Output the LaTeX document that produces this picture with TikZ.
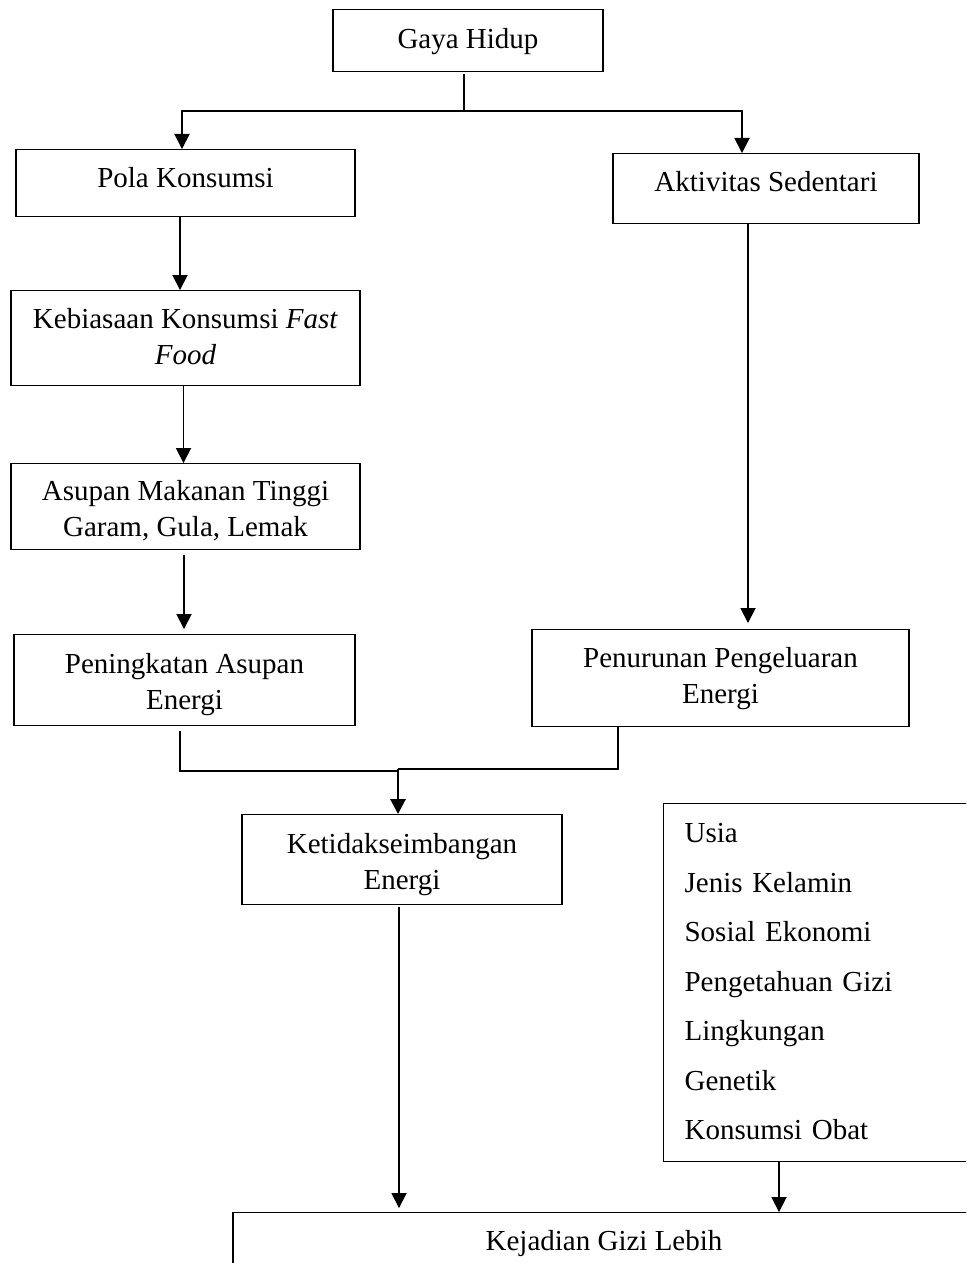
\documentclass[tikz,border=0pt]{standalone}
\usepackage{fontspec}
\setmainfont{Liberation Serif}
\usepackage{tikz}
\usetikzlibrary{arrows.meta, positioning, calc}

\begin{document}
\begin{tikzpicture}[
    x=0.5pt, y=-0.5pt,
    kotak/.style={draw, line width=0.6pt, anchor=north, align=center, inner xsep=4pt, inner ysep=0pt,
      text height=19pt, font=\fontsize{14.5}{18}\selectfont},
    daftar/.style={draw, line width=0.6pt, anchor=north west, align=left, inner xsep=10.5pt, inner ysep=0pt,
      text width=147.5pt, text height=19.5pt, text depth=159.5pt, font=\fontsize{14.5}{24.75}\selectfont},
    garis/.style={line width=0.6pt},
    panah/.style={-{Triangle[length=7.5pt, width=7.6pt]}, line width=0.6pt},
    panahtebal/.style={-{Triangle[length=7.5pt, width=7.6pt]}, line width=1.2pt}
  ]
  \useasboundingbox (0,0) rectangle (966,1263);
  \clip (0,0) rectangle (966,1263);

  % kotak-kotak
  \node[kotak, minimum width=135pt, text height=19.5pt, text depth=11.5pt] (gaya) at (468,9) {Gaya Hidup};
  \node[kotak, minimum width=169.5pt, text depth=14.5pt] (pola) at (185.5,149) {Pola Konsumsi};
  \node[kotak, minimum width=153pt, text depth=16pt] (aktivitas) at (766,153) {Aktivitas Sedentari};
  \node[kotak, minimum width=174.5pt, text height=37pt, text depth=10.5pt] (kebiasaan) at (185.5,290) {Kebiasaan Konsumsi \textit{Fast}\\\textit{Food}};
  \node[kotak, minimum width=174.5pt, text height=36.5pt, text depth=6.5pt] (asupan) at (185.5,463) {Asupan Makanan Tinggi\\Garam, Gula, Lemak};
  \node[kotak, minimum width=170.5pt, text height=37.5pt, text depth=8pt] (peningkatan) at (184.5,634) {Peningkatan Asupan\\Energi};
  \node[kotak, minimum width=188.5pt, text height=37pt, text depth=11.5pt] (penurunan) at (720.5,629) {Penurunan Pengeluaran\\Energi};
  \node[kotak, minimum width=160pt, text height=37.5pt, text depth=7.5pt] (ketidak) at (402,814) {Ketidakseimbangan\\Energi};
  \node[daftar] (faktor) at (663,803) {Usia\\Jenis Kelamin\\Sosial Ekonomi\\Pengetahuan Gizi\\Lingkungan\\Genetik\\Konsumsi Obat};
  \node[kotak, minimum width=371pt, text depth=21pt] (kejadian) at (604,1212) {Kejadian Gizi Lebih};

  % percabangan dari gaya hidup
  \coordinate (bagi) at (464,111);
  \draw[garis, shorten <=1pt] ([xshift=-2pt]gaya.south) -- (bagi);
  \draw[panah] (bagi) -| ([xshift=-1.75pt]pola.north);
  \draw[panah] (bagi) -| ([xshift=-12pt]aktivitas.north);

  % jalur pola konsumsi
  \draw[panah] ([xshift=-2.75pt]pola.south) -- ([xshift=-2.75pt]kebiasaan.north);
  \draw[panah] ([xshift=-1pt]kebiasaan.south) -- ([xshift=-1pt]asupan.north);
  \draw[panah, shorten <=2.5pt, shorten >=2.5pt] ([xshift=-0.75pt]asupan.south) -- ([xshift=-0.25pt]peningkatan.north);

  % jalur aktivitas
  \draw[panah, shorten >=3pt] ([xshift=-9pt]aktivitas.south) -- ([xshift=13.75pt]penurunan.north);

  % penggabungan
  \coordinate (gabung) at (398,769);
  \draw[garis, shorten <=2.5pt] ([xshift=-2.25pt]peningkatan.south) |- ([yshift=-1pt]gabung);
  \draw[garis] ([xshift=-51.25pt]penurunan.south) |- (gabung);
  \draw[panahtebal] (gabung) -- (gabung |- ketidak.north);

  % menuju kejadian gizi lebih
  \draw[panah, shorten <=1pt, shorten >=2pt] ([xshift=-1.5pt]ketidak.south) -- ([xshift=-1.5pt]ketidak.south |- kejadian.north);
  \draw[panah] ([xshift=58pt]faktor.south west) -- ([xshift=58pt]faktor.south west |- kejadian.north);
\end{tikzpicture}
\end{document}
